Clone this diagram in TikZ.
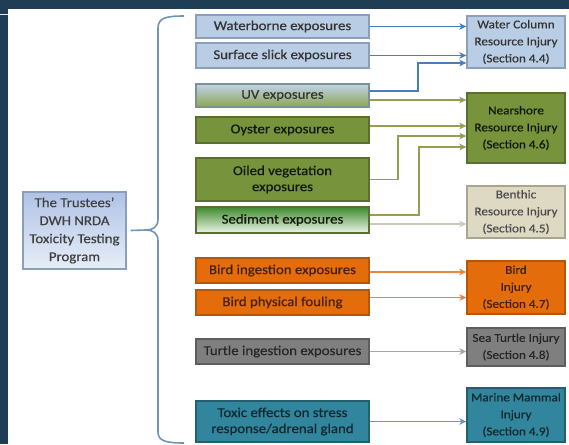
\documentclass[tikz,border=0pt]{standalone}
\usepackage{fontspec}
\setmainfont[FakeStretch=1.1,FakeBold=0.4]{Carlito}
\usetikzlibrary{arrows.meta}
\definecolor{frame}{HTML}{1F3D54}
\definecolor{lblue}{HTML}{B9CDE5}
\definecolor{lblueb}{HTML}{8A9FBC}
\definecolor{olive}{HTML}{77933C}
\definecolor{oliveb}{HTML}{5A7030}
\definecolor{orng}{HTML}{E46C0A}
\definecolor{orngb}{HTML}{B5560A}
\definecolor{gry}{HTML}{7F7F7F}
\definecolor{gryb}{HTML}{5E5E5E}
\definecolor{teal}{HTML}{31859C}
\definecolor{tealb}{HTML}{23606F}
\definecolor{beige}{HTML}{DDD9C3}
\definecolor{beigeb}{HTML}{A9A58F}
\definecolor{ablue}{HTML}{4A7EBB}
\definecolor{agreen}{HTML}{939F55}
\definecolor{abeige}{HTML}{C8CBB8}
\definecolor{aorng}{HTML}{E9853A}
\definecolor{agry}{HTML}{A6A6A6}
\definecolor{ateal}{HTML}{5B9FB5}
\definecolor{bracec}{HTML}{6F94B5}
\definecolor{sedtop}{HTML}{3E8A2E}
\definecolor{sedmid}{HTML}{A8CC8A}
\definecolor{sedbot}{HTML}{EEF5E8}
\definecolor{uvtop}{HTML}{C2D3EA}
\definecolor{uvmid}{HTML}{E6ECF2}
\definecolor{uvbot}{HTML}{8AA650}
\tikzset{
  base/.style={draw, line width=1.3pt, align=center, inner sep=1pt, text=black!80},
  lbox/.style={base, minimum width=173pt, font=\fontsize{13.5}{16}\selectfont},
  rbox/.style={base, minimum width=98pt, font=\fontsize{12}{17}\selectfont},
  bluebox/.style={fill=lblue, draw=lblueb},
  greenbox/.style={fill=olive, draw=oliveb, text=black!85!olive},
  orangebox/.style={fill=orng, draw=orngb, text=orng!30!black},
  graybox/.style={fill=gry, draw=gryb, text=black!85},
  tealbox/.style={fill=teal, draw=tealb, text=teal!30!black},
  beigebox/.style={fill=beige, draw=beigeb, text=black!70},
  conn/.style={line width=1.8pt, -{Stealth[length=7pt,width=6.5pt,inset=2pt]}},
  bracestyle/.style={draw=bracec, line width=1.6pt}
}
\begin{document}
\begin{tikzpicture}[x=1pt,y=-1pt]
\useasboundingbox (0,0) rectangle (569,444);
\fill[frame] (0,0) rectangle (569,444);
\fill[white] (8,9) rectangle (569,444);
\draw[white!85!gray, line width=1pt] (0,15) -- (8,15);

% program box
\node[base, draw=lblueb, top color=lblue!95!blue, bottom color=lblue!35, minimum width=103pt, minimum height=77pt, font=\fontsize{13.5}{18}\selectfont, text=black!75] (prog) at (74.5,230.5) {The Trustees'\\DWH NRDA\\Toxicity Testing\\Program};

% brace
\coordinate (tip) at (146,230);
\draw[bracestyle] (184,16) .. controls (166,16) and (158,18) .. (158,28) -- (158,219) .. controls (158,227) and (153,230) .. (tip);
\draw[bracestyle] (tip) .. controls (153,230) and (158,233) .. (158,241) -- (158,432) .. controls (158,441) and (166,443) .. (184,443);
\draw[bracestyle] ([xshift=4pt]prog.east) -- (tip);

% left boxes
\node[lbox, bluebox, minimum height=23pt] (wb) at (282.5,26.5) {Waterborne exposures};
\node[lbox, bluebox, minimum height=25pt] (ss) at (282.5,55.5) {Surface slick exposures};
\node[lbox, draw=lblueb!70!oliveb, top color=uvtop, middle color=uvmid, bottom color=uvbot, minimum height=23pt] (uv) at (282.5,95.5) {UV exposures};
\node[lbox, greenbox, minimum height=26pt] (oy) at (282.5,130) {Oyster exposures};
\node[lbox, greenbox, minimum height=43pt] (ov) at (282.5,179.5) {Oiled vegetation\\exposures};
\node[lbox, draw=oliveb, top color=sedtop, middle color=sedmid, bottom color=sedbot, minimum height=26pt, text=black!85!olive] (sd) at (282.5,220) {Sediment exposures};
\node[lbox, orangebox, minimum height=25pt] (bi) at (282.5,270.5) {Bird ingestion exposures};
\node[lbox, orangebox, minimum height=25pt] (bp) at (282.5,302.5) {Bird physical fouling};
\node[lbox, graybox, minimum height=25pt] (tu) at (282.5,351.5) {Turtle ingestion exposures};
\node[lbox, tealbox, minimum height=41pt] (tx) at (282.5,421.5) {Toxic effects on stress\\response/adrenal gland};

% right boxes
\node[rbox, bluebox, minimum height=52pt] (wc) at (516,42) {Water Column\\Resource Injury\\(Section 4.4)};
\node[rbox, greenbox, minimum height=70pt] (ns) at (516,128) {Nearshore\\Resource Injury\\(Section 4.6)};
\node[rbox, beigebox, minimum height=52pt] (be) at (516,212) {Benthic\\Resource Injury\\(Section 4.5)};
\node[rbox, orangebox, minimum height=53pt] (bd) at (516,287.5) {Bird\\Injury\\(Section 4.7)};
\node[rbox, graybox, minimum height=38pt] (st) at (516,347) {Sea Turtle Injury\\(Section 4.8)};
\node[rbox, tealbox, minimum height=54pt] (mm) at (516,415) {Marine Mammal\\Injury\\(Section 4.9)};

% connectors
\coordinate (uvb) at ([yshift=4.5pt]uv.east);
\coordinate (uvg) at ([yshift=-4.5pt]uv.east);
\coordinate (oyo) at ([yshift=4pt]oy.east);
\coordinate (sdg) at ([yshift=5pt]sd.east);
\coordinate (sdb) at ([yshift=-4pt]sd.east);
\coordinate (bpo) at ([yshift=5pt]bp.east);
\coordinate (bio) at ([yshift=-1.5pt]bi.east);

\draw[conn, ablue] (wb.east) -- (wb.east -| wc.west);
\draw[conn, ablue] (ss.east) -- (ss.east -| wc.west);
\draw[conn, ablue] (uvb) -- ++(48,0) |- ([yshift=-21pt]wc.west);
\draw[conn, agreen] (uvg) -- (uvg -| ns.west);
\draw[conn, agreen] (oyo) -- (oyo -| ns.west);
\draw[conn, agreen] (ov.east) -- ++(28,0) |- ([yshift=-8pt]ns.west);
\draw[conn, agreen] (sdg) -- ++(49,0) |- ([yshift=-19pt]ns.west);
\draw[conn, abeige] (sdb) -- (sdb -| be.west);
\draw[conn, aorng] (bio) -- (bio -| bd.west);
\draw[conn, aorng] (bpo) -- (bpo -| bd.west);
\draw[conn, agry] (tu.east) -- (tu.east -| st.west);
\draw[conn, ateal] (tx.east) -- (tx.east -| mm.west);
\end{tikzpicture}
\end{document}
